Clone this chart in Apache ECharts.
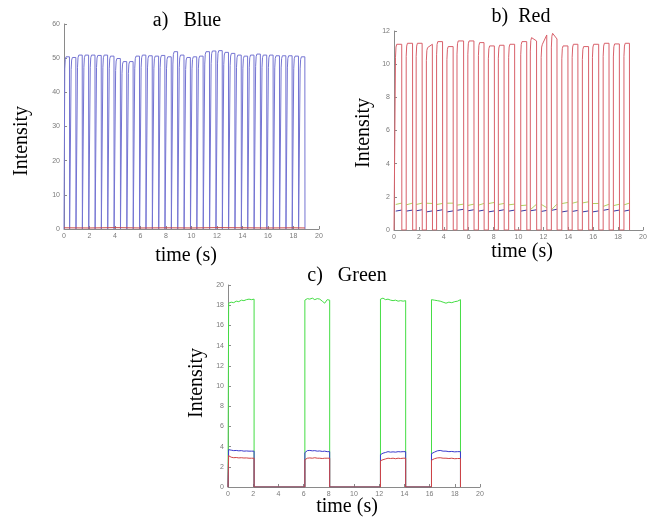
<!DOCTYPE html>
<html>
<head>
<meta charset="utf-8">
<script src="https://cdn.jsdelivr.net/npm/echarts@6/dist/echarts.min.js"></script>
<style>
html, body { margin: 0; padding: 0; background: #fff; }
#chart { width: 660px; height: 519px; }
</style>
</head>
<body>
<div id="chart"></div>
<script>
// ---- a) Blue excitation: blue pulses, red stays near zero ----
const blueOn = [0.06, 0.56, 1.06, 1.56, 2.06, 2.55, 3.05, 3.55, 4.05, 4.55, 5.05, 5.55, 6.05, 6.55, 7.05, 7.54, 8.04, 8.54, 9.04,
	9.54, 10.04, 10.54, 11.04, 11.54, 12.04, 12.53, 13.03, 13.53, 14.03, 14.53, 15.03, 15.53, 16.03, 16.53, 17.03, 17.52, 18.02, 18.52]
const blueOff = [0.44, 0.94, 1.44, 1.94, 2.44, 2.93, 3.43, 3.93, 4.43, 4.93, 5.43, 5.93, 6.43, 6.93, 7.43, 7.92, 8.42, 8.92, 9.42,
	9.92, 10.42, 10.92, 11.42, 11.92, 12.42, 12.91, 13.41, 13.91, 14.41, 14.91, 15.41, 15.91, 16.41, 16.91, 17.41, 17.9, 18.4, 18.9]
const bluePeak = [50.4, 50.2, 50.9, 50.9, 50.9, 50.8, 50.9, 50.6, 49.9, 49.0, 49.0, 50.6, 50.9, 50.7, 50.6, 50.8, 50.4, 51.9, 50.9,
	50.2, 50.4, 50.6, 51.9, 52.1, 52.2, 51.7, 51.4, 50.9, 50.6, 50.9, 51.2, 50.9, 50.9, 50.7, 50.7, 50.7, 50.6, 50.4]
const redA_t = [0, 2, 4, 6, 8, 10, 12, 14, 16, 18, 18.9]
const redA_v = [0.35, 0.3, 0.4, 0.3, 0.35, 0.3, 0.4, 0.35, 0.3, 0.35, 0.3]

// ---- b) Red excitation: red pulses, green and blue small ----
const redOn = [0.12, 0.98, 1.78, 2.6, 3.42, 4.25, 5.06, 5.93, 6.78, 7.58, 8.38, 9.21, 10.18, 10.95, 11.82, 12.64, 13.48, 14.31, 15.13, 15.94, 16.8, 17.62, 18.47]
const redOff = [0.63, 1.5, 2.27, 3.09, 3.91, 4.76, 5.6, 6.43, 7.24, 8.07, 8.85, 9.7, 10.67, 11.46, 12.28, 13.1, 13.98, 14.78, 15.64, 16.45, 17.28, 18.11, 18.92]
const redTopStart = [11.2, 11.26, 11.26, 11.0, 11.36, 11.06, 11.4, 11.4, 11.3, 11.1, 11.14, 11.2, 11.36, 11.6, 11.2, 11.86, 11.1, 11.2, 11.06, 11.2, 11.26, 11.22, 11.26]
const redTopEnd = [11.2, 11.26, 11.26, 11.2, 11.36, 11.06, 11.4, 11.4, 11.3, 11.1, 11.14, 11.2, 11.36, 11.4, 11.76, 11.52, 11.1, 11.2, 11.06, 11.2, 11.26, 11.22, 11.26]
const greenB_start = [1.62, 1.6, 1.62, 1.7, 1.62, 1.7, 1.58, 1.56, 1.58, 1.68, 1.62, 1.6, 1.55, 1.3, 1.62, 1.3, 1.68, 1.7, 1.72, 1.68, 1.5, 1.55, 1.6]
const greenB_end = [1.62, 1.62, 1.62, 1.6, 1.6, 1.62, 1.56, 1.56, 1.6, 1.66, 1.6, 1.56, 1.5, 1.55, 1.35, 1.55, 1.66, 1.7, 1.7, 1.6, 1.55, 1.55, 1.62]
const blueB = [1.2, 1.2, 1.22, 1.15, 1.22, 1.15, 1.25, 1.22, 1.2, 1.15, 1.22, 1.2, 1.2, 1.22, 1.18, 1.25, 1.15, 1.18, 1.15, 1.15, 1.25, 1.2, 1.2]

// ---- c) Green excitation: four long pulses ----
const greenOn = [0.05, 6.1, 12.1, 16.15]
const greenOff = [2.07, 8.07, 14.1, 18.45]
const greenTop = [
	[18.2, 18.3, 18.25, 18.4, 18.35, 18.5, 18.45, 18.55, 18.6, 18.55, 18.6],
	[18.5, 18.65, 18.6, 18.7, 18.55, 18.65, 18.6, 18.4, 18.2, 18.55, 18.5],
	[18.6, 18.7, 18.55, 18.6, 18.5, 18.45, 18.5, 18.4, 18.45, 18.4, 18.45],
	[18.55, 18.5, 18.45, 18.4, 18.3, 18.2, 18.3, 18.25, 18.35, 18.4, 18.55]
]
const blueTop = [
	[3.7, 3.65, 3.6, 3.62, 3.58, 3.6, 3.55, 3.57, 3.55, 3.55, 3.55],
	[3.4, 3.6, 3.62, 3.58, 3.6, 3.55, 3.57, 3.52, 3.55, 3.5, 3.5],
	[3.2, 3.35, 3.42, 3.5, 3.45, 3.48, 3.45, 3.5, 3.48, 3.5, 3.5],
	[3.3, 3.45, 3.58, 3.62, 3.55, 3.55, 3.5, 3.52, 3.48, 3.5, 3.5]
]
const redTop = [
	[3.1, 2.95, 2.9, 2.92, 2.88, 2.9, 2.87, 2.88, 2.85, 2.85, 2.85],
	[2.7, 2.85, 2.88, 2.85, 2.9, 2.85, 2.85, 2.82, 2.85, 2.85, 2.85],
	[2.6, 2.7, 2.78, 2.85, 2.82, 2.85, 2.8, 2.85, 2.82, 2.85, 2.85],
	[2.65, 2.8, 2.88, 2.9, 2.85, 2.85, 2.82, 2.85, 2.8, 2.82, 2.82]
]

const xTicks = [0, 20, 2]

// pulse with a rounded leading corner and a sharp trailing edge
function pulseTrain(on, off, top0, top1) {
	const pts = [[0, 0]]
	on.forEach((t, i) => {
		pts.push([t, 0], [t, top0[i] * 0.93], [t + 0.04, top0[i] * 0.985], [t + 0.1, top0[i]],
			[off[i] - 0.01, top1[i]], [off[i], 0])
	})
	return pts
}

// only the plateau part of each pulse (the rest sits under the red trace)
function plateaus(on, off, top0, top1) {
	const pts = []
	on.forEach((t, i) => {
		pts.push([t + 0.02, top0[i] * 0.95], [t + 0.1, top0[i]], [off[i] - 0.02, top1[i]], ['-', '-'])
	})
	return pts
}

// pulses whose top follows sampled readings
function sampledTrain(on, off, tops) {
	const pts = [[0, 0]]
	on.forEach((t, i) => {
		pts.push([t, 0])
		const n = tops[i].length
		tops[i].forEach((v, k) => pts.push([t + (off[i] - t) * k / (n - 1), v]))
		pts.push([off[i], 0])
	})
	return pts
}

const serif = 'Liberation Serif, Times New Roman, serif'

function axisBase(idx, max, interval) {
	return {
		gridIndex: idx,
		type: 'value',
		min: 0,
		max: max,
		interval: interval,
		axisLine: { show: true, lineStyle: { color: '#8a8a8a', width: 1 } },
		axisTick: { show: true, inside: true, length: 3, lineStyle: { color: '#8a8a8a' } },
		axisLabel: { color: '#7a7a7a', fontSize: 7, fontFamily: 'Liberation Sans, Arial, sans-serif', margin: 4 },
		splitLine: { show: false }
	}
}

function label(text, x, y, rotate) {
	return {
		type: 'text',
		x: x,
		y: y,
		rotation: rotate ? Math.PI / 2 : 0,
		style: {
			text: text,
			font: '20px ' + serif,
			fill: '#000',
			textAlign: 'center',
			textVerticalAlign: 'middle'
		}
	}
}

function line(idx, data, color) {
	return {
		type: 'line',
		xAxisIndex: idx,
		yAxisIndex: idx,
		data: data,
		showSymbol: false,
		symbol: 'none',
		connectNulls: false,
		lineStyle: { color: color, width: 1 },
		silent: true
	}
}

const chart = echarts.init(document.getElementById('chart'))

const option = {
	animation: false,
	backgroundColor: '#fff',
	grid: [
		{ left: 64, top: 24, width: 255, height: 205 },
		{ left: 394, top: 31, width: 249, height: 199 },
		{ left: 228, top: 285, width: 252, height: 202 }
	],
	xAxis: [
		axisBase(0, xTicks[1], xTicks[2]),
		axisBase(1, xTicks[1], xTicks[2]),
		axisBase(2, xTicks[1], xTicks[2])
	],
	yAxis: [
		axisBase(0, 60, 10),
		axisBase(1, 12, 2),
		axisBase(2, 20, 2)
	],
	graphic: [
		label('a)   Blue', 187, 21),
		label('b)  Red', 521, 17),
		label('c)   Green', 347, 276),
		label('Intensity', 22, 141, true),
		label('Intensity', 364, 133, true),
		label('Intensity', 197, 383, true),
		label('time (s)', 186, 256),
		label('time (s)', 522, 252),
		label('time (s)', 347, 507)
	],
	series: [
		line(0, pulseTrain(blueOn, blueOff, bluePeak, bluePeak), '#7474d2'),
		line(0, redA_t.map((t, i) => [t, redA_v[i]]), '#c84848'),

		line(1, plateaus(redOn, redOff, greenB_start, greenB_end), '#b2d060'),
		line(1, plateaus(redOn, redOff, blueB, blueB), '#3a3aa0'),
		line(1, pulseTrain(redOn, redOff, redTopStart, redTopEnd), '#d8606a'),

		line(2, sampledTrain(greenOn, greenOff, greenTop), '#44dd44'),
		line(2, sampledTrain(greenOn, greenOff, blueTop), '#3a3acc'),
		line(2, sampledTrain(greenOn, greenOff, redTop), '#d04444')
	]
}

chart.setOption(option)
</script>
</body>
</html>
